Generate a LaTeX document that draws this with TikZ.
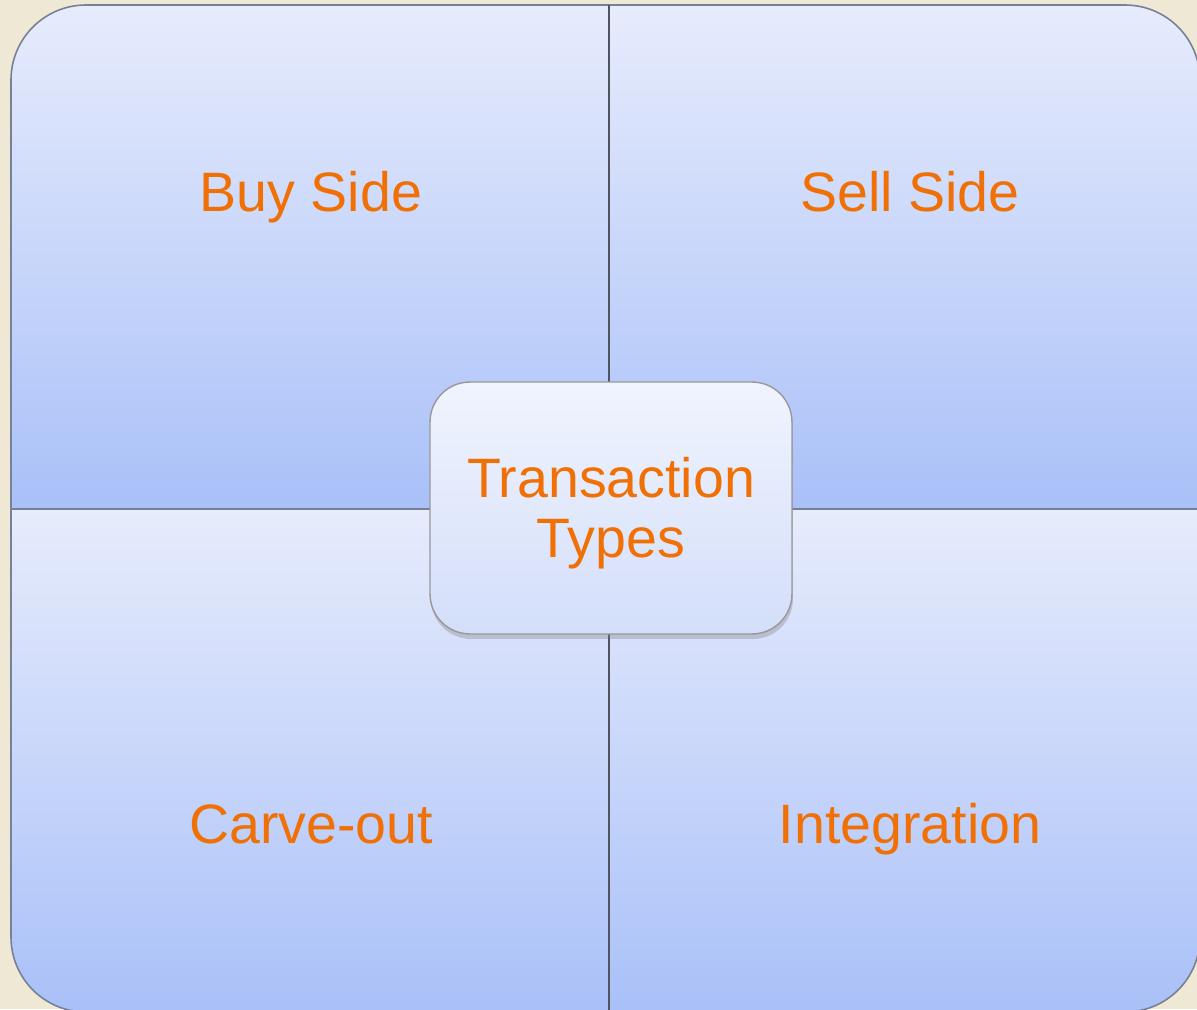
\documentclass[tikz,border=0pt]{standalone}
\usepackage{fontspec}
\setmainfont{Liberation Sans}
\usetikzlibrary{shadows}

\definecolor{bgbeige}{RGB}{238,232,213}
\definecolor{quadtop}{RGB}{231,236,252}
\definecolor{quadbot}{RGB}{169,192,248}
\definecolor{hubtop}{RGB}{240,244,253}
\definecolor{hubbot}{RGB}{211,222,250}
\definecolor{labelorange}{RGB}{240,112,6}
\definecolor{edgegray}{RGB}{120,128,150}
\definecolor{divgray}{RGB}{80,84,96}

\tikzset{
    quad/.style={top color=quadtop, bottom color=quadbot, draw=edgegray, line width=0.9pt},
    quadlabel/.style={text=labelorange, font=\fontsize{31.6}{33.6}\selectfont, anchor=base},
    hub/.style={rectangle, rounded corners=0.8cm, minimum width=7.24cm, minimum height=5.04cm,
        top color=hubtop, bottom color=hubbot, draw=gray!80, line width=0.8pt,
        drop shadow={shadow xshift=0.02cm, shadow yshift=-0.1cm, opacity=0.35},
        text=labelorange, align=center, font=\fontsize{31.6}{33.6}\selectfont},
}

\begin{document}
\begin{tikzpicture}[x=0.02cm, y=0.02cm]
    % --- 定义坐标和参数 ---
    \def\xL{11}      % 左边界
    \def\xR{1200}    % 右边界
    \def\yT{1004}    % 上边界
    \def\yB{-3}      % 下边界
    \def\xM{609}     % 竖直分割线
    \def\yM{500}     % 水平分割线
    \def\rad{75}     % 外圆角半径

    % --- 背景 ---
    \fill[bgbeige] (0,0) rectangle (1197,1009);
    \useasboundingbox (0,0) rectangle (1197,1009);

    % --- 四个象限 ---
    % 左上
    \path[quad] (\xM,\yM) -- (\xL,\yM) -- (\xL,\yT-\rad)
        arc[start angle=180, end angle=90, radius=\rad] -- (\xM,\yT) -- cycle;
    % 右上
    \path[quad] (\xM,\yM) -- (\xM,\yT) -- (\xR-\rad,\yT)
        arc[start angle=90, end angle=0, radius=\rad] -- (\xR,\yM) -- cycle;
    % 左下
    \path[quad] (\xM,\yM) -- (\xL,\yM) -- (\xL,\yB+\rad)
        arc[start angle=180, end angle=270, radius=\rad] -- (\xM,\yB) -- cycle;
    % 右下
    \path[quad] (\xM,\yM) -- (\xR,\yM) -- (\xR,\yB+\rad)
        arc[start angle=0, end angle=-90, radius=\rad] -- (\xM,\yB) -- cycle;

    % 竖直分割线 (深色)
    \draw[divgray, line width=1.1pt] (\xM,\yT) -- (\xM,\yB);

    % --- 象限标签 ---
    \node[quadlabel] (buy)   at (311,797) {Buy Side};
    \node[quadlabel] (sell)  at (910,797) {Sell Side};
    \node[quadlabel] (carve) at (311,166) {Carve-out};
    \node[quadlabel] (integ) at (910,166) {Integration};

    % --- 中心框 ---
    % 第一行加一个隐形支柱, 让两行文字略微下移
    \node[hub] (hub) at (611,501) {\rule{0pt}{1.01cm}Transaction\\Types};

\end{tikzpicture}
\end{document}
